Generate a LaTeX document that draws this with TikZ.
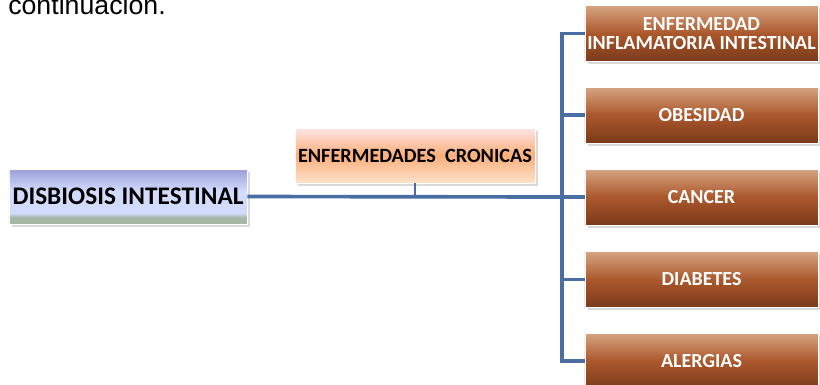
\documentclass[tikz,border=0pt]{standalone}
\usepackage{fontspec}
\setmainfont{Carlito}
\newfontfamily\arialfont{Liberation Sans}
\usetikzlibrary{shadows,positioning,calc}
\definecolor{Link}{HTML}{4A6EA3}
\definecolor{DisTop}{HTML}{9A9ED8}
\definecolor{DisLight}{HTML}{D3DBFD}
\definecolor{DisBand}{HTML}{A6B7A6}
\definecolor{CroTop}{HTML}{FDE5E4}
\definecolor{CroMid}{HTML}{FBAE7A}
\definecolor{CroBot}{HTML}{FDE3CA}
\definecolor{EnfTop}{HTML}{D6A482}
\definecolor{EnfMid}{HTML}{AB582C}
\definecolor{EnfBot}{HTML}{7A3A1A}
\pgfdeclareverticalshading{disbshade}{100bp}{color(0bp)=(DisBand); color(25bp)=(DisBand);
color(31bp)=(DisBand); color(35bp)=(DisLight); color(55bp)=(DisLight);
color(75bp)=(DisTop); color(100bp)=(DisTop)}

\begin{document}
\begin{tikzpicture}
[x=0.025cm,y=-0.025cm,
link/.style={Link,line width=2.6pt},
box/.style={inner sep=0pt,align=center,font=\bfseries,draw=white,thin,
  drop shadow={shadow xshift=2pt,shadow yshift=-2pt,opacity=0.25,fill=black!60}},
cause/.style={box,minimum width=5.95cm,minimum height=1.375cm,shading=disbshade,
  font=\fontsize{18}{20}\bfseries},
group/.style={box,minimum width=6cm,minimum height=1.375cm,
  top color=CroTop,bottom color=CroBot,middle color=CroMid,font=\fontsize{14.4}{16}\bfseries},
disease/.style={box,minimum width=5.825cm,minimum height=1.4cm,text=white,
  top color=EnfTop,bottom color=EnfBot,middle color=EnfMid,font=\fontsize{14.2}{13.5}\bfseries}
]
\useasboundingbox (0,0) rectangle (820,384);
%% cut-off line of text above
\node[anchor=base west,inner sep=0pt,font=\arialfont\fontsize{19}{20}\selectfont] (intro) at (8,14) {continuación.};
%% main boxes
\node[cause] (disb) at (128,196.5) {DISBIOSIS INTESTINAL};
\node[group] (cron) at (415,155.5) {ENFERMEDADES\ \ CRONICAS};
%% diseases
\node[disease] (enf1) at (701.5,33.5) {ENFERMEDAD\\INFLAMATORIA INTESTINAL};
\node[disease] (enf2) at (701.5,115) {OBESIDAD};
\node[disease] (enf3) at (701.5,197) {CANCER};
\node[disease] (enf4) at (701.5,279.5) {DIABETES};
\node[disease] (enf5) at (701.5,361) {ALERGIAS};
%% connectors
\coordinate (hub) at (562,197);
\draw[link] (disb.east) -- (hub);
\draw[link,line width=1.6pt] (cron.south) -- (cron.south |- hub);
\foreach \i in {1,...,5}
  \draw[link] (hub) |- (enf\i.west);
\end{tikzpicture}
\end{document}
